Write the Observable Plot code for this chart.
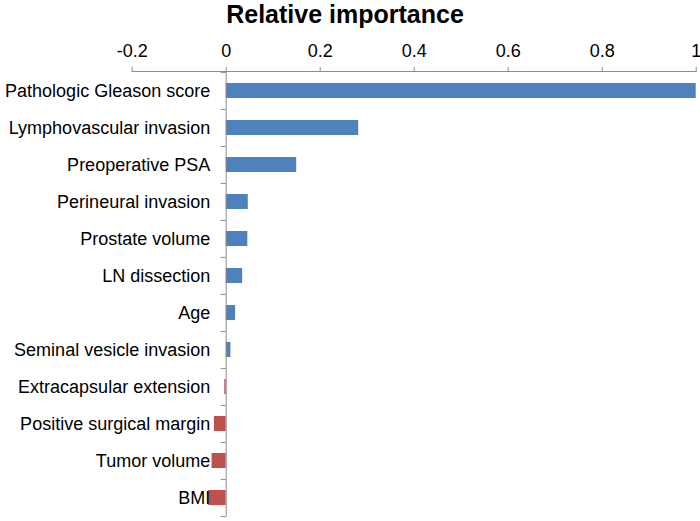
<!DOCTYPE html>
<html>
<head>
<meta charset="utf-8">
<script src="https://cdn.jsdelivr.net/npm/d3@7"></script>
<script src="https://cdn.jsdelivr.net/npm/@observablehq/plot@0.6"></script>
<style>
  html, body { margin: 0; padding: 0; background: #fff; }
  #title { width: 690px; padding-right: 10px; height: 30px; line-height: 28px; text-align: center;
    font-family: "Liberation Sans", Arial, sans-serif; font-weight: bold; font-size: 25px; color: #000; }
</style>
</head>
<body>
<div id="title">Relative importance</div>
<div id="chart"></div>
<script>
const categories = [
  "Pathologic Gleason score",
  "Lymphovascular invasion",
  "Preoperative PSA",
  "Perineural invasion",
  "Prostate volume",
  "LN dissection",
  "Age",
  "Seminal vesicle invasion",
  "Extracapsular extension",
  "Positive surgical margin",
  "Tumor volume",
  "BMI"
];
const values = [1.0, 0.282, 0.150, 0.047, 0.046, 0.035, 0.020, 0.010, -0.003, -0.025, -0.030, -0.037];
const xTicks = [-0.2, 0, 0.2, 0.4, 0.6, 0.8, 1];

const data = categories.map((name, i) => ({name, value: values[i], sign: values[i] >= 0 ? "pos" : "neg"}));

const W = 700, H = 491, mTop = 41, mBottom = 4.3, mLeft = 131.7, mRight = 4.3;
const step = (H - mTop - mBottom) / categories.length;
const pxPerUnit = (W - mLeft - mRight) / 1.2;
const tickLen = 5 / pxPerUnit;
const gray = "#8c8c8c";
const font = "Liberation Sans, Arial, sans-serif";

const tickRows = categories.map((c) => ({c}))
  .concat([{c: categories[categories.length - 1]}]);

const chart = Plot.plot({
  width: W,
  height: H,
  marginTop: mTop,
  marginBottom: mBottom,
  marginLeft: mLeft,
  marginRight: mRight,
  style: {fontFamily: font, fontSize: "18px", color: "#000", background: "#fff"},
  x: {domain: [-0.2, 1], axis: null, label: null},
  y: {domain: categories, type: "band", paddingInner: 0.6, paddingOuter: 0.3, axis: null},
  color: {domain: ["pos", "neg"], range: ["#4F81BD", "#C0504D"]},
  marks: [
    Plot.barX(data, {x: "value", y: "name", fill: "sign"}),
    Plot.ruleX([0], {stroke: gray, strokeWidth: 1}),
    Plot.frame({anchor: "top", stroke: gray, strokeWidth: 1}),
    Plot.ruleY(tickRows.slice(0, -1), {y: "c", x1: d => -tickLen, x2: d => 0, dy: -step / 2, stroke: gray, strokeWidth: 1}),
    Plot.ruleY(tickRows.slice(-1), {y: "c", x1: d => -tickLen, x2: d => 0, dy: step / 2, stroke: gray, strokeWidth: 1}),
    Plot.axisX({anchor: "top", ticks: xTicks, tickSize: 5, tickPadding: 10, stroke: gray, fill: "#000",
      fontSize: 18, label: null, tickFormat: d => String(+d.toFixed(1))}),
    Plot.text(data, {x: d => 0, y: "name", text: "name", textAnchor: "end", dx: -16, fontSize: 18, fill: "#000"})
  ]
});
document.getElementById("chart").appendChild(chart);
</script>
</body>
</html>
